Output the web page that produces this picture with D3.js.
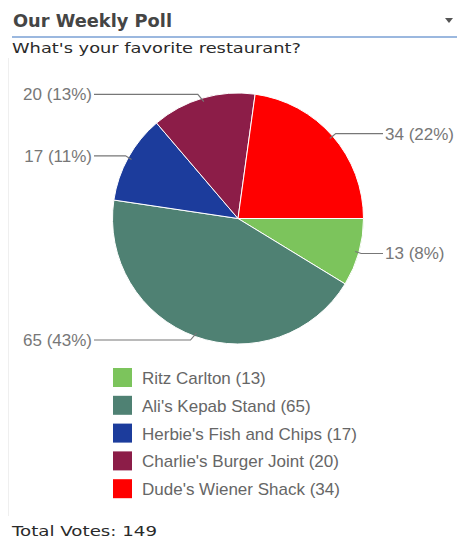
<!DOCTYPE html>
<html>
<head>
<meta charset="utf-8">
<script src="https://cdn.jsdelivr.net/npm/d3@7"></script>
<style>
  body { margin: 0; background: #fff; }
  svg { display: block; }
</style>
</head>
<body>
<div id="chart"></div>
<script>
// poll data
const restaurants = ["Ritz Carlton", "Ali's Kepab Stand", "Herbie's Fish and Chips", "Charlie's Burger Joint", "Dude's Wiener Shack"];
const votes = [13, 65, 17, 20, 34];
const sliceColors = ["#7cc45c", "#4f8173", "#1c3c9c", "#8c1d48", "#ff0000"];

const width = 457, height = 541;
const cx = 238, cy = 218.5, radius = 125.5;
const headFont = "Verdana, 'DejaVu Sans', sans-serif";
const labelFont = "Arial, 'Liberation Sans', sans-serif";

const svg = d3.select("#chart").append("svg")
  .attr("width", width)
  .attr("height", height);

// light frame line on the left
svg.append("line")
  .attr("x1", 8.5).attr("x2", 8.5)
  .attr("y1", 58).attr("y2", 516)
  .attr("stroke", "#efefef");

// header
svg.append("text")
  .attr("x", 13).attr("y", 27)
  .attr("font-family", headFont)
  .attr("font-weight", "bold")
  .attr("font-size", 17)
  .attr("textLength", 159)
  .attr("lengthAdjust", "spacingAndGlyphs")
  .attr("fill", "#454545")
  .text("Our Weekly Poll");

svg.append("path")
  .attr("d", "M445,18 L453,18 L449,23 Z")
  .attr("fill", "#555");

svg.append("line")
  .attr("x1", 12).attr("x2", 457)
  .attr("y1", 37).attr("y2", 37)
  .attr("stroke", "#7aa0d4")
  .attr("stroke-width", 1.5);

svg.append("text")
  .attr("x", 12).attr("y", 53)
  .attr("font-family", headFont)
  .attr("font-size", 14)
  .attr("textLength", 289)
  .attr("lengthAdjust", "spacingAndGlyphs")
  .attr("fill", "#2a2a2a")
  .text("What's your favorite restaurant?");

// pie
const total = d3.sum(votes);
const pie = d3.pie().sort(null)
  .startAngle(Math.PI / 2)
  .endAngle(Math.PI / 2 + 2 * Math.PI);
const arcs = pie(votes);
const arc = d3.arc().innerRadius(0).outerRadius(radius);

const g = svg.append("g").attr("transform", "translate(" + cx + "," + cy + ")");

g.selectAll("path.slice")
  .data(arcs)
  .enter()
  .append("path")
  .attr("class", "slice")
  .attr("d", arc)
  .attr("fill", (d, i) => sliceColors[i])
  .attr("stroke", "#fff")
  .attr("stroke-width", 1);

// leader lines + labels
arcs.forEach((d, i) => {
  const a = (d.startAngle + d.endAngle) / 2; // 0 = 12 o'clock
  const px = Math.sin(a) * radius * 0.97;
  const py = -Math.cos(a) * radius * 0.97;
  const right = px > 0;
  const ly = -Math.cos(a) * radius * 1.03;
  const lx = right ? 145 : -144;
  g.append("polyline")
    .attr("points", [[px, py], [px + (right ? 6 : -6), ly], [lx, ly]].map(p => p.join(",")).join(" "))
    .attr("fill", "none")
    .attr("stroke", "#777")
    .attr("stroke-width", 1.2);
  // percentages are truncated, not rounded
  const pct = Math.floor(votes[i] / total * 100);
  g.append("text")
    .attr("x", right ? lx + 2 : lx - 2)
    .attr("y", ly)
    .attr("dy", "0.35em")
    .attr("text-anchor", right ? "start" : "end")
    .attr("font-family", labelFont)
    .attr("font-size", 17)
    .attr("fill", "#777")
    .text(votes[i] + " (" + pct + "%)");
});

// legend
const legend = svg.append("g").attr("transform", "translate(113,368)");
const row = legend.selectAll("g")
  .data(restaurants)
  .enter()
  .append("g")
  .attr("transform", (d, i) => "translate(0," + i * 27.8 + ")");

row.append("rect")
  .attr("width", 19).attr("height", 19)
  .attr("fill", (d, i) => sliceColors[i]);

row.append("text")
  .attr("x", 29).attr("y", 10)
  .attr("dy", "0.35em")
  .attr("font-family", labelFont)
  .attr("font-size", 17)
  .attr("fill", "#666")
  .text((d, i) => d + " (" + votes[i] + ")");

svg.append("text")
  .attr("x", 12).attr("y", 536)
  .attr("font-family", headFont)
  .attr("font-size", 14)
  .attr("textLength", 145)
  .attr("lengthAdjust", "spacingAndGlyphs")
  .attr("fill", "#2a2a2a")
  .text("Total Votes: " + total);
</script>
</body>
</html>
